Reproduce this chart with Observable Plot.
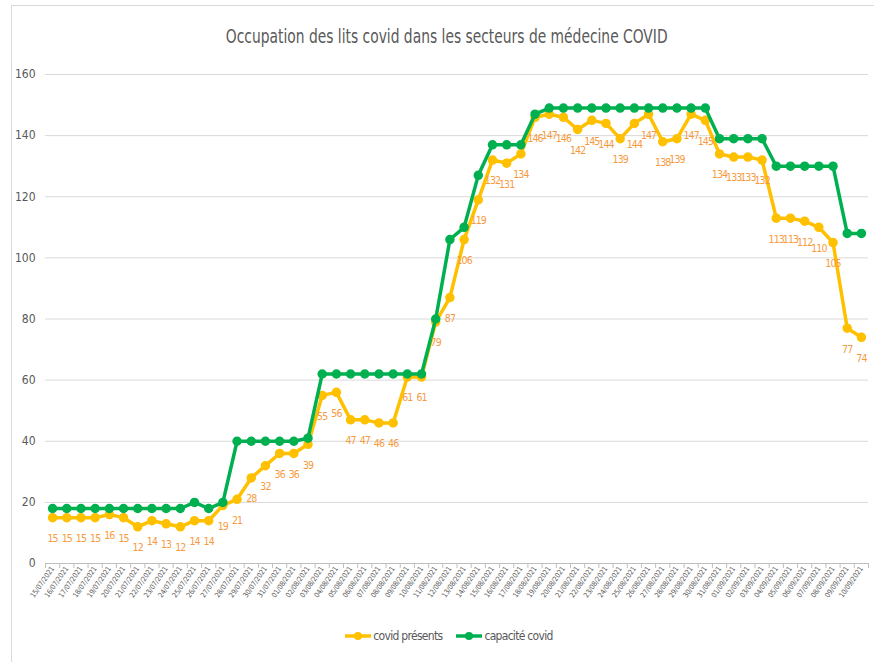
<!DOCTYPE html>
<html>
<head>
<meta charset="utf-8">
<script src="https://cdn.jsdelivr.net/npm/d3@7"></script>
<script src="https://cdn.jsdelivr.net/npm/@observablehq/plot@0.6"></script>
<style>
  html, body { margin: 0; padding: 0; background: #fff; }
  body { width: 874px; height: 662px; position: relative; overflow: hidden;
         font-family: "DejaVu Sans Condensed", "Liberation Sans Narrow", sans-serif; }
  #frame { position: absolute; left: 11px; top: 5px; width: 1000px; height: 1000px;
           border-left: 1px solid #d9d9d9; border-top: 1px solid #d9d9d9; }
  #title { position: absolute; left: 10px; top: 25px; width: 874px; text-align: center;
           font-size: 19px; color: #595959; }
  #title span { display: inline-block; transform: scaleX(0.81); transform-origin: center; white-space: nowrap; }
  #chart { position: absolute; left: 0; top: 60px; }
  #legend { position: absolute; left: 12px; top: 629px; width: 874px; text-align: center;
            font-size: 12px; color: #595959; letter-spacing: -0.7px; }
  #legend span.item { display: inline-flex; align-items: center; margin: 0 7px; }
  #legend svg { margin-right: 2px; }
  #chart g[aria-label="text"] text { letter-spacing: -0.9px; }
  #chart g[aria-label="x-axis tick label"] text { letter-spacing: -0.2px; }
</style>
</head>
<body>
<div id="frame"></div>
<div id="title"><span>Occupation des lits covid dans les secteurs de médecine COVID</span></div>
<div id="chart"></div>
<div id="legend"></div>
<script>
const dates = [
  "15/07/2021","16/07/2021","17/07/2021","18/07/2021","19/07/2021","20/07/2021","21/07/2021","22/07/2021",
  "23/07/2021","24/07/2021","25/07/2021","26/07/2021","27/07/2021","28/07/2021","29/07/2021","30/07/2021",
  "31/07/2021","01/08/2021","02/08/2021","03/08/2021","04/08/2021","05/08/2021","06/08/2021","07/08/2021",
  "08/08/2021","09/08/2021","10/08/2021","11/08/2021","12/08/2021","13/08/2021","14/08/2021","15/08/2021",
  "16/08/2021","17/08/2021","18/08/2021","19/08/2021","20/08/2021","21/08/2021","22/08/2021","23/08/2021",
  "24/08/2021","25/08/2021","26/08/2021","27/08/2021","28/08/2021","29/08/2021","30/08/2021","31/08/2021",
  "01/09/2021","02/09/2021","03/09/2021","04/09/2021","05/09/2021","06/09/2021","07/09/2021","08/09/2021",
  "09/09/2021","10/09/2021"
];
const covidPresents = [
  15,15,15,15,16,15,12,14,13,12,14,14,19,21,28,32,36,
  36,39,55,56,47,47,46,46,61,61,79,87,106,119,132,131,134,146,147,146,142,145,144,139,144,147,138,139,147,145,134,
  133,133,132,113,113,112,110,105,77,74
];
const capaciteCovid = [
  18,18,18,18,18,18,18,18,18,18,20,18,20,40,40,40,40,
  40,41,62,62,62,62,62,62,62,62,80,106,110,127,137,137,137,147,149,149,149,149,149,149,149,149,149,149,149,149,139,
  139,139,139,130,130,130,130,130,108,108
];
const yTicks = [0, 20, 40, 60, 80, 100, 120, 140, 160];
const seriesNames = ["covid présents", "capacité covid"];
const seriesColors = ["#FFC000", "#00B050"];
const labelColor = "#F79A3E";

const rows = dates.map((d, i) => ({i, date: d, presents: covidPresents[i], capacite: capaciteCovid[i]}));
const idx = d3.range(dates.length);
const bounds = d3.range(dates.length + 1).map(i => i - 0.5);

const plot = Plot.plot({
  width: 874,
  height: 560,
  marginTop: 14,
  marginBottom: 57,
  marginLeft: 45,
  marginRight: 6,
  style: {fontFamily: '"DejaVu Sans Condensed", "Liberation Sans Narrow", sans-serif', color: "#595959", background: "transparent"},
  x: {type: "linear", domain: [-0.5, dates.length - 0.5]},
  y: {domain: [0, 160]},
  marks: [
    Plot.ruleY(yTicks.filter(v => v > 0), {stroke: "#D9D9D9", strokeWidth: 1, strokeOpacity: 1}),
    Plot.ruleY([0], {stroke: "#BFBFBF", strokeWidth: 1, strokeOpacity: 1}),
    Plot.axisY({ticks: yTicks, tickSize: 0, tickPadding: 10, fontSize: 12, label: null, fill: "#595959"}),
    Plot.axisX({ticks: bounds, tickSize: 5, tickFormat: () => "", stroke: "#BFBFBF", label: null}),
    Plot.axisX({ticks: idx, tickSize: 0, tickPadding: 4, tickRotate: -55, tickFormat: i => dates[i],
                fontSize: 7.3, fill: "#595959", label: null}),
    Plot.lineY(rows, {x: "i", y: "presents", stroke: seriesColors[0], strokeWidth: 3.5}),
    Plot.dot(rows, {x: "i", y: "presents", fill: seriesColors[0], stroke: seriesColors[0], r: 4}),
    Plot.lineY(rows, {x: "i", y: "capacite", stroke: seriesColors[1], strokeWidth: 3.5}),
    Plot.dot(rows, {x: "i", y: "capacite", fill: seriesColors[1], stroke: seriesColors[1], r: 4}),
    Plot.text(rows, {x: "i", y: "presents", text: "presents", dy: 21, fill: labelColor, fontSize: 10.5})
  ]
});
document.getElementById("chart").appendChild(plot);

const legend = document.getElementById("legend");
seriesNames.forEach((name, k) => {
  const item = document.createElement("span");
  item.className = "item";
  item.innerHTML = `<svg width="26" height="10"><line x1="0" x2="26" y1="5" y2="5" stroke="${seriesColors[k]}" stroke-width="3.5"/><circle cx="13" cy="5" r="4" fill="${seriesColors[k]}"/></svg>${name}`;
  legend.appendChild(item);
});
</script>
</body>
</html>
